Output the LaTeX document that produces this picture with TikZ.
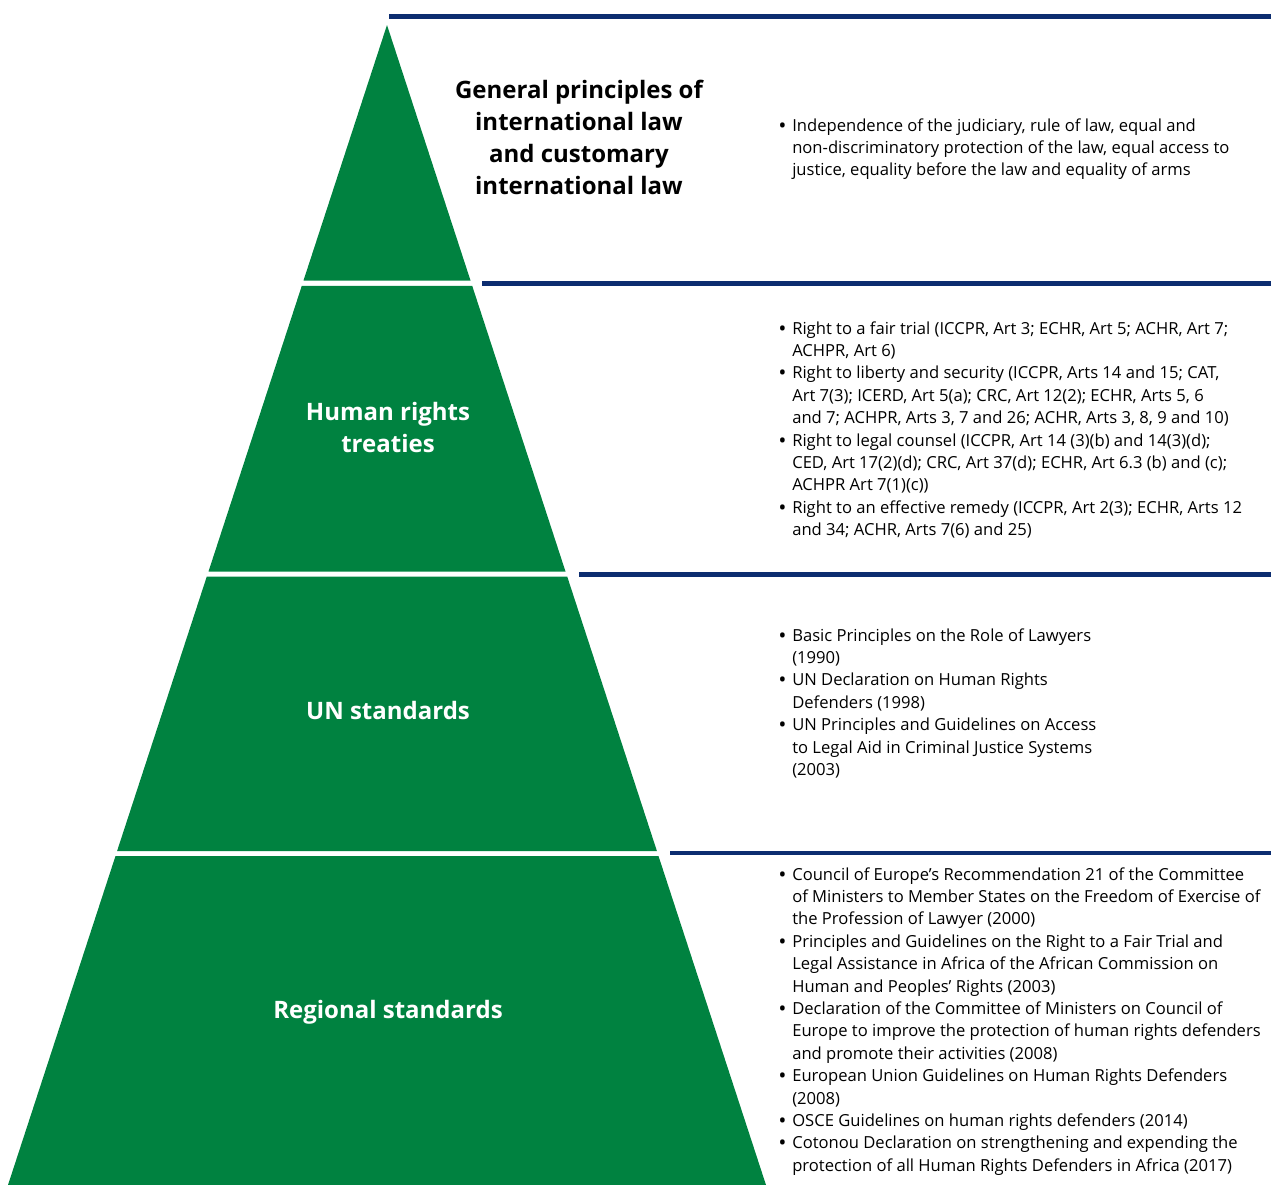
\documentclass[tikz,border=0pt]{standalone}
\usepackage{fontspec}
\setmainfont{Open Sans}
\usepackage{tikz}
\usetikzlibrary{positioning}
\definecolor{pyrgreen}{RGB}{0,130,64}
\definecolor{rulenavy}{RGB}{12,45,112}
\newcommand{\notesize}{\fontsize{12.45}{16.8}\selectfont}
\newcommand{\titlesize}{\fontsize{18}{24}\selectfont\bfseries}
\newcommand{\bu}{{\bfseries\textbullet}}
\newenvironment{blist}{\begin{tabular}[t]{@{}p{9.75pt}@{}l@{}}}{\end{tabular}}
\newenvironment{tlines}{\begin{tabular}[t]{@{}c@{}}}{\end{tabular}}
\tikzstyle{level} = [fill = pyrgreen]
\tikzstyle{rule} = [draw = rulenavy, line width = 3.4pt]
\tikzstyle{title} = [anchor = base, inner sep = 0pt, text = white, font = \titlesize]
\tikzstyle{toptitle} = [title, text = black]
\tikzstyle{notes} = [anchor = base west, inner sep = 0pt, font = \notesize]

\begin{document}
\begin{tikzpicture}[x = 0.75pt, y = -0.75pt]
			\useasboundingbox (0, 0) rectangle (1271, 1185);
			% Pyramid levels
			\fill [level] (387, 25) -- (470.5, 280.5) -- (303.5, 280.5) -- cycle;
			\fill [level] (301.8, 285.8) -- (472.2, 285.8) -- (565.5, 571.5) -- (208.5, 571.5) -- cycle;
			\fill [level] (206.8, 576.5) -- (567.2, 576.5) -- (656.9, 851) -- (117.1, 851) -- cycle;
			\fill [level] (115.5, 856) -- (658.5, 856) -- (766, 1185) -- (8, 1185) -- cycle;

			% Rules
			\path [rule] (389, 16.7) -- (1271, 16.7);
			\path [rule] (482, 283.3) -- (1271, 283.3);
			\path [rule] (579, 574.5) -- (1271, 574.5);
			\path [rule] (670, 853.2) -- (1271, 853.2);

			% Place nodes
			\node [toptitle] (general) at (579, 98) {\begin{tlines}General principles of\\ international law\\ and customary\\ international law\end{tlines}};
			\node [title] (treaties) at (388, 420) {\begin{tlines}Human rights\\ treaties\end{tlines}};
			\node [title] (unstd) at (388, 719) {UN standards};
			\node [title] (regional) at (388, 1018) {Regional standards};

			\node [notes] (generalnotes) at (779, 131) {\begin{blist}
				\bu & Independence of the judiciary, rule of law, equal and\\
				& non-discriminatory protection of the law, equal access to\\
				& justice, equality before the law and equality of arms
			\end{blist}};
			\node [notes] (treatiesnotes) at (779, 334) {\begin{blist}
				\bu & Right to a fair trial (ICCPR, Art 3; ECHR, Art 5; ACHR, Art 7;\\
				& ACHPR, Art 6)\\
				\bu & Right to liberty and security (ICCPR, Arts 14 and 15; CAT,\\
				& Art 7(3); ICERD, Art 5(a); CRC, Art 12(2); ECHR, Arts 5, 6\\
				& and 7; ACHPR, Arts 3, 7 and 26; ACHR, Arts 3, 8, 9 and 10)\\
				\bu & Right to legal counsel (ICCPR, Art 14 (3)(b) and 14(3)(d);\\
				& CED, Art 17(2)(d); CRC, Art 37(d); ECHR, Art 6.3 (b) and (c);\\
				& ACHPR Art 7(1)(c))\\
				\bu & Right to an effective remedy (ICCPR, Art 2(3); ECHR, Arts 12\\
				& and 34; ACHR, Arts 7(6) and 25)
			\end{blist}};
			\node [notes] (unnotes) at (779, 641) {\begin{blist}
				\bu & Basic Principles on the Role of Lawyers\\
				& (1990)\\
				\bu & UN Declaration on Human Rights\\
				& Defenders (1998)\\
				\bu & UN Principles and Guidelines on Access\\
				& to Legal Aid in Criminal Justice Systems\\
				& (2003)
			\end{blist}};
			\node [notes] (regionalnotes) at (779, 880) {\begin{blist}
				\bu & Council of Europe’s Recommendation 21 of the Committee\\
				& of Ministers to Member States on the Freedom of Exercise of\\
				& the Profession of Lawyer (2000)\\
				\bu & Principles and Guidelines on the Right to a Fair Trial and\\
				& Legal Assistance in Africa of the African Commission on\\
				& Human and Peoples’ Rights (2003)\\
				\bu & Declaration of the Committee of Ministers on Council of\\
				& Europe to improve the protection of human rights defenders\\
				& and promote their activities (2008)\\
				\bu & European Union Guidelines on Human Rights Defenders\\
				& (2008)\\
				\bu & OSCE Guidelines on human rights defenders (2014)\\
				\bu & Cotonou Declaration on strengthening and expending the\\
				& protection of all Human Rights Defenders in Africa (2017)
			\end{blist}};
		\end{tikzpicture}
\end{document}
